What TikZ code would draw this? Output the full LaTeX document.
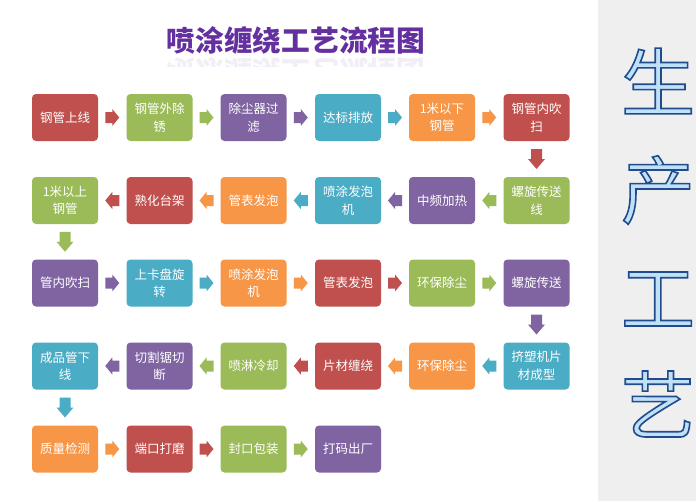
\documentclass[tikz,border=0pt]{standalone}
\usepackage{fontspec}
\newfontfamily\cjk{Noto Sans CJK SC}
\usetikzlibrary{calc}
\definecolor{cred}{HTML}{C0504D}
\definecolor{cgreen}{HTML}{9BBB59}
\definecolor{cpurple}{HTML}{8064A2}
\definecolor{caqua}{HTML}{4BACC6}
\definecolor{corange}{HTML}{F79646}
\definecolor{titlepurple}{HTML}{6430A0}
\definecolor{panelgray}{HTML}{EFEFEF}
\definecolor{bigfill}{HTML}{BFE0F7}
\newcommand\outlined[1]{{\color{bigfill}\special{pdf:code 0.13 0.30 0.55 RG 1.6 w 2 Tr}#1\special{pdf:code 0 Tr}}}
% block arrow between two named nodes: from, to, colour, angle, length, head length
\newcommand\blockarr[6]{%
  \fill[#3, shift={($(#1)!0.5!(#2)$)}, rotate=#4]
    (-#5/2,-5.5) -- (#5/2-#6,-5.5) -- (#5/2-#6,-8.5) -- (#5/2,0) --
    (#5/2-#6,8.5) -- (#5/2-#6,5.5) -- (-#5/2,5.5) -- cycle;}
\newcommand\rarrow[3]{\blockarr{#1}{#2}{#3}{0}{14}{7}}
\newcommand\larrow[3]{\blockarr{#1}{#2}{#3}{180}{14}{7}}
\newcommand\darrow[3]{\blockarr{#1}{#2}{#3}{-90}{20}{10}}
\begin{document}
\begin{tikzpicture}[x=1pt,y=-1pt,
  box/.style={rounded corners=4pt, minimum width=66pt, minimum height=47pt, inner sep=0pt,
    text=white, font=\cjk\fontsize{12.5}{17.5}\selectfont, align=center},
  big/.style={font=\cjk\fontsize{74}{74}\selectfont, inner sep=0pt},
  titlefont/.style={font=\cjk\bfseries\fontsize{28.7}{30}\selectfont, text=titlepurple, inner sep=0pt},
]
\useasboundingbox (0,0) rectangle (696,501);
\fill[white] (0,0) rectangle (598,501);
\fill[panelgray] (598,0) rectangle (696,501);

% title
\node[titlefont] (title) at (296,40) {喷涂缠绕工艺流程图};
\begin{scope}
\clip (150,56) rectangle (440,66);
\begin{scope}[yscale=-1, transform shape]
\node[titlefont, opacity=0.08] (titlerefl) at (296,-72) {喷涂缠绕工艺流程图};
\end{scope}
\end{scope}

% row 1
\node[box, fill=cred]    (b11) at (65,117.5)  {钢管上线};
\node[box, fill=cgreen]  (b12) at (159.5,117.5) {钢管外除\\锈};
\node[box, fill=cpurple] (b13) at (253.5,117.5) {除尘器过\\滤};
\node[box, fill=caqua]   (b14) at (348,117.5) {达标排放};
\node[box, fill=corange] (b15) at (442,117.5) {1米以下\\钢管};
\node[box, fill=cred]    (b16) at (536.5,117.5) {钢管内吹\\扫};
% row 2
\node[box, fill=cgreen]  (b26) at (536.5,200.5) {螺旋传送\\线};
\node[box, fill=cpurple] (b25) at (442,200.5) {中频加热};
\node[box, fill=caqua]   (b24) at (348,200.5) {喷涂发泡\\机};
\node[box, fill=corange] (b23) at (253.5,200.5) {管表发泡};
\node[box, fill=cred]    (b22) at (159.5,200.5) {熟化台架};
\node[box, fill=cgreen]  (b21) at (65,200.5) {1米以上\\钢管};
% row 3
\node[box, fill=cpurple] (b31) at (65,283) {管内吹扫};
\node[box, fill=caqua]   (b32) at (159.5,283) {上卡盘旋\\转};
\node[box, fill=corange] (b33) at (253.5,283) {喷涂发泡\\机};
\node[box, fill=cred]    (b34) at (348,283) {管表发泡};
\node[box, fill=cgreen]  (b35) at (442,283) {环保除尘};
\node[box, fill=cpurple] (b36) at (536.5,283) {螺旋传送};
% row 4
\node[box, fill=caqua]   (b46) at (536.5,366) {挤塑机片\\材成型};
\node[box, fill=corange] (b45) at (442,366) {环保除尘};
\node[box, fill=cred]    (b44) at (348,366) {片材缠绕};
\node[box, fill=cgreen]  (b43) at (253.5,366) {喷淋冷却};
\node[box, fill=cpurple] (b42) at (159.5,366) {切割锯切\\断};
\node[box, fill=caqua]   (b41) at (65,366) {成品管下\\线};
% row 5
\node[box, fill=corange] (b51) at (65,449) {质量检测};
\node[box, fill=cred]    (b52) at (159.5,449) {端口打磨};
\node[box, fill=cgreen]  (b53) at (253.5,449) {封口包装};
\node[box, fill=cpurple] (b54) at (348,449) {打码出厂};

% connectors
\rarrow{b11}{b12}{cred}
\rarrow{b12}{b13}{cgreen}
\rarrow{b13}{b14}{cpurple}
\rarrow{b14}{b15}{caqua}
\rarrow{b15}{b16}{corange}
\darrow{b16}{b26}{cred}
\larrow{b26}{b25}{cgreen}
\larrow{b25}{b24}{cpurple}
\larrow{b24}{b23}{caqua}
\larrow{b23}{b22}{corange}
\larrow{b22}{b21}{cred}
\darrow{b21}{b31}{cgreen}
\rarrow{b31}{b32}{cpurple}
\rarrow{b32}{b33}{caqua}
\rarrow{b33}{b34}{corange}
\rarrow{b34}{b35}{cred}
\rarrow{b35}{b36}{cgreen}
\darrow{b36}{b46}{cpurple}
\larrow{b46}{b45}{caqua}
\larrow{b45}{b44}{corange}
\larrow{b44}{b43}{cred}
\larrow{b43}{b42}{cgreen}
\larrow{b42}{b41}{cpurple}
\darrow{b41}{b51}{caqua}
\rarrow{b51}{b52}{corange}
\rarrow{b52}{b53}{cred}
\rarrow{b53}{b54}{cgreen}

% side panel characters
\node[big] (s1) at (658,81)  {\outlined{生}};
\node[big] (s2) at (658,190) {\outlined{产}};
\node[big] (s3) at (658,299) {\outlined{工}};
\node[big] (s4) at (658,404) {\outlined{艺}};
\end{tikzpicture}
\end{document}
